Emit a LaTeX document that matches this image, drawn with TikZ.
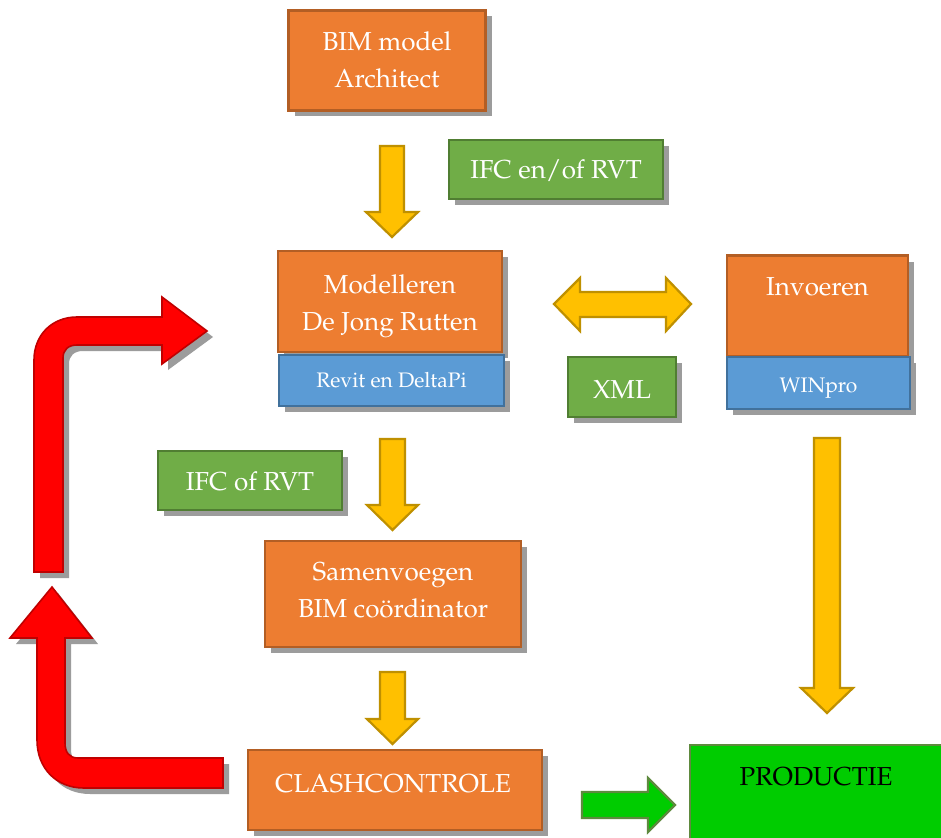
\documentclass[tikz,border=0pt]{standalone}
\usepackage[T1]{fontenc}
\renewcommand{\rmdefault}{ppl}
\usetikzlibrary{shadows}
\definecolor{oFill}{HTML}{ED7D31}
\definecolor{oDraw}{HTML}{B35E24}
\definecolor{gFill}{HTML}{70AD47}
\definecolor{gDraw}{HTML}{507E32}
\definecolor{bFill}{HTML}{5B9BD5}
\definecolor{bDraw}{HTML}{41719C}
\definecolor{yFill}{HTML}{FFC000}
\definecolor{yDraw}{HTML}{BF9000}
\definecolor{rFill}{HTML}{FF0000}
\definecolor{rDraw}{HTML}{C00000}
\definecolor{pFill}{HTML}{00CC00}
\definecolor{pDraw}{HTML}{5E8A3E}
\definecolor{shade}{HTML}{9C9C9C}
\newcommand{\dnText}[2][3pt]{\raisebox{-#1}[\height][\depth]{\begin{tabular}{@{}c@{}}#2\end{tabular}}}
\tikzset{
  shad/.style={drop shadow={shadow xshift=6pt, shadow yshift=-6pt, fill=shade, opacity=1}},
  box/.style={rectangle, inner sep=0pt, line width=2.2pt, align=center, text=white,
    font=\fontsize{26}{37}\selectfont, shad},
  obox/.style={box, fill=oFill, draw=oDraw},
  gbox/.style={box, fill=gFill, draw=gDraw},
  bbox/.style={box, fill=bFill, draw=bDraw, font=\fontsize{21}{25}\selectfont},
  lbl/.style={text=white, font=\fontsize{26}{37}\selectfont},
  yarrow/.style={fill=yFill, draw=yDraw, line width=2.2pt, line join=miter},
  rarrow/.style={fill=rFill, draw=rDraw, line width=1.6pt, shad},
  garrow/.style={fill=pFill, draw=pDraw, line width=2.2pt},
}
\begin{document}
\begin{tikzpicture}[x=1pt, y=-1pt]
\clip (0,0) rectangle (941,837);
\fill[white] (0,0) rectangle (941,837);

% boxes
\node[obox, minimum width=197pt, minimum height=100pt] (bim) at (387,60.5) {\dnText[1pt]{BIM model\\Architect}};
\node[gbox, minimum width=214pt, minimum height=59pt] (ifc1) at (556,169.5) {\dnText[2pt]{IFC en/of RVT}};
\node[obox, minimum width=224pt, minimum height=101pt] (mod) at (390,301.5) {\dnText[3.5pt]{Modelleren\\De Jong Rutten}};
\node[bbox, minimum width=225pt, minimum height=51pt] (revit) at (391.5,380.5) {\dnText[2pt]{Revit en DeltaPi}};
\node[obox, minimum width=181pt, minimum height=101pt,
  label={[lbl, yshift=19pt]center:Invoeren}] (inv) at (817.5,306) {};
\node[bbox, minimum width=183pt, minimum height=52pt] (win) at (818.5,383) {\dnText[4pt]{WINpro}};
\node[gbox, minimum width=108pt, minimum height=60pt] (xml) at (622,387) {\dnText[4pt]{XML}};
\node[gbox, minimum width=184pt, minimum height=59pt] (ifc2) at (250,480.5) {\dnText[3pt]{IFC of RVT}};
\node[obox, minimum width=256pt, minimum height=106pt] (sam) at (393,594) {\dnText[-2pt]{Samenvoegen\\BIM co\"ordinator}};
\node[obox, minimum width=294pt, minimum height=80pt,
  label={[lbl, yshift=6pt, xshift=-2pt]center:CLASHCONTROLE}] (clash) at (395,790) {};
\node[rectangle, inner sep=0pt, fill=pFill, draw=pDraw, line width=2.2pt,
  minimum width=260pt, minimum height=94pt,
  label={[text=black, font=\fontsize{26}{37}\selectfont, yshift=15pt, xshift=-4pt]center:PRODUCTIE}]
  (prod) at (820,792) {};

% yellow block arrows
\draw[yarrow] (380,146) -- (404,146) -- (404,212) -- (418,212) -- (392,237) -- (366,212) -- (380,212) -- cycle;
\draw[yarrow] (380,439) -- (405,439) -- (405,505) -- (418,505) -- (392.5,530) -- (367,505) -- (380,505) -- cycle;
\draw[yarrow] (380,672) -- (405,672) -- (405,719) -- (418,719) -- (392.5,744) -- (367,719) -- (380,719) -- cycle;
\draw[yarrow] (814,438) -- (840,438) -- (840,688) -- (853,688) -- (827,713) -- (801,688) -- (814,688) -- cycle;
\draw[yarrow] (554,304) -- (580,278) -- (580,292) -- (666,292) -- (666,278) -- (691,304)
  -- (666,331) -- (666,317) -- (580,317) -- (580,331) -- cycle;

% red bent arrows
\draw[rarrow] (34,572) -- (34,360) .. controls (34,335) and (52,317) .. (77,317) -- (162,317)
  -- (162,297) -- (207,331) -- (162,364) -- (162,345) -- (77,345)
  .. controls (68,345) and (63,350) .. (63,358) -- (63,572) -- cycle;
\draw[rarrow] (52,587) -- (92,638) -- (65,638) -- (65,743) .. controls (65,752) and (69,758) .. (78,758)
  -- (223,758) -- (223,788) -- (84,788) .. controls (56,788) and (37,768) .. (37,740)
  -- (37,638) -- (10,638) -- cycle;

% green arrow
\draw[garrow] (582,792) -- (648,792) -- (648,778) -- (675,805) -- (648,832) -- (648,818) -- (582,818) -- cycle;
\end{tikzpicture}
\end{document}
